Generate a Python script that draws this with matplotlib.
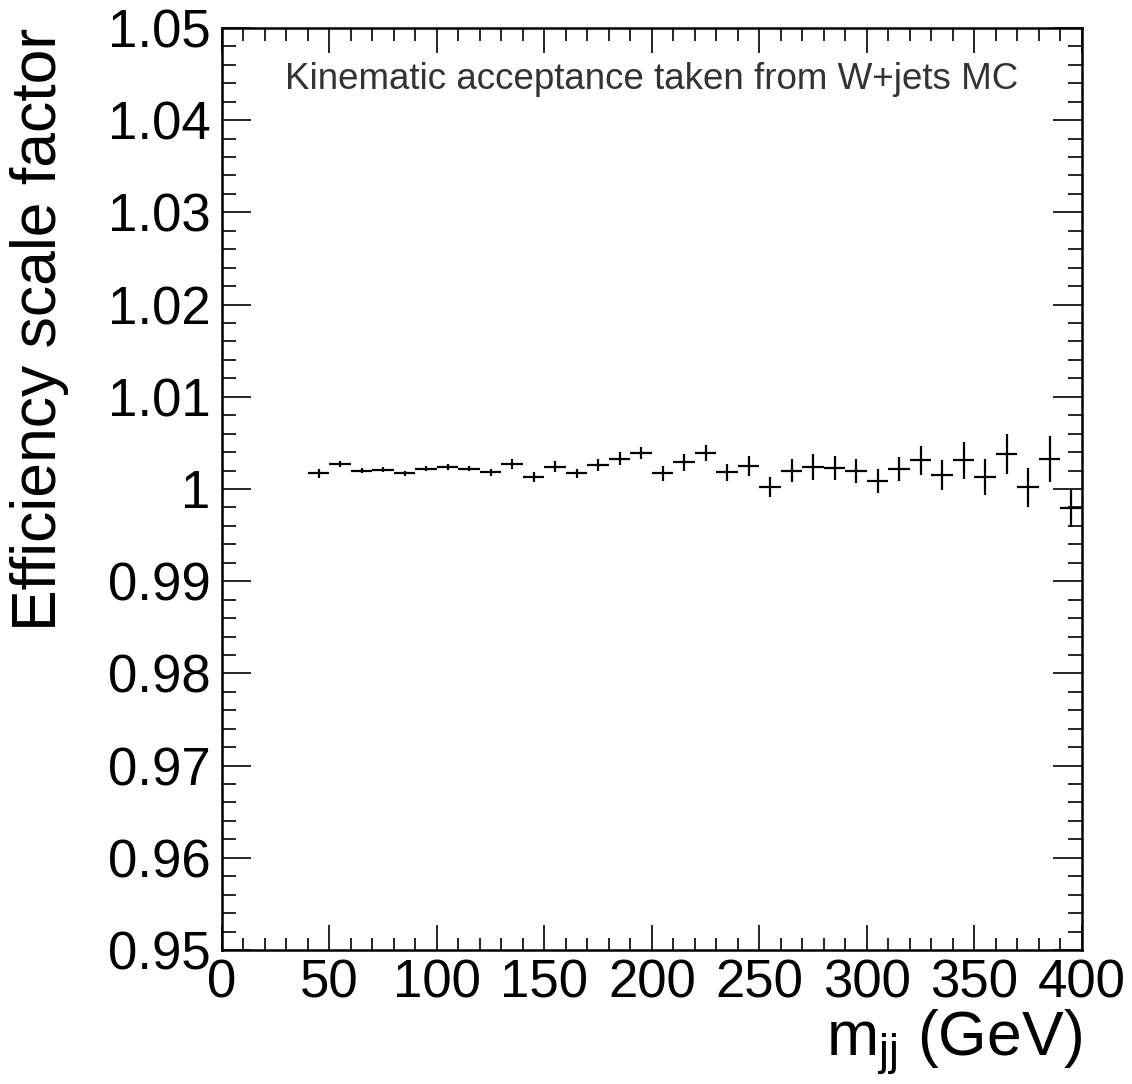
import numpy as np
import matplotlib.pyplot as plt
from matplotlib.ticker import MultipleLocator

plt.rcParams['font.family'] = ['Liberation Sans', 'DejaVu Sans']

# bin edges in m_jj (GeV), 10 GeV bins from 40 to 400
bin_lo = [40, 50, 60, 70, 80, 90, 100, 110, 120, 130, 140, 150,
          160, 170, 180, 190, 200, 210, 220, 230, 240, 250, 260, 270,
          280, 290, 300, 310, 320, 330, 340, 350, 360, 370, 380, 390]
sf = [1.0017, 1.0027, 1.0020, 1.0021, 1.0017, 1.0022, 1.0024, 1.0022, 1.0018, 1.0027, 1.0013, 1.0024,
      1.0017, 1.0026, 1.0033, 1.0039, 1.0017, 1.0029, 1.0039, 1.0018, 1.0025, 1.0002, 1.0020, 1.0024,
      1.0023, 1.0020, 1.0009, 1.0022, 1.0031, 1.0015, 1.0031, 1.0013, 1.0038, 1.0002, 1.0033, 0.9979]
sf_err = [0.0005, 0.0003, 0.0003, 0.0003, 0.0003, 0.0003, 0.0003, 0.0003, 0.0004, 0.0005, 0.0005, 0.0006,
          0.0005, 0.0007, 0.0007, 0.0007, 0.0008, 0.0009, 0.0009, 0.0009, 0.0011, 0.0011, 0.0012, 0.0014,
          0.0013, 0.0013, 0.0013, 0.0013, 0.0016, 0.0016, 0.0020, 0.0020, 0.0022, 0.0021, 0.0025, 0.0020]

bin_w = 10
x = np.array(bin_lo) + bin_w / 2

fig = plt.figure(figsize=(11.32, 10.84), dpi=100)
ax = fig.add_axes([0.1961, 0.1236, 0.7597, 0.8506])

ax.errorbar(x, sf, xerr=bin_w / 2, yerr=sf_err, fmt='none', ecolor='black',
            elinewidth=1.6, capsize=0)

ax.set_xlim(0, 400)
ax.set_ylim(0.95, 1.05)
ax.xaxis.set_major_locator(MultipleLocator(50))
ax.xaxis.set_minor_locator(MultipleLocator(10))
ax.yaxis.set_minor_locator(MultipleLocator(0.002))
ax.set_yticks(np.arange(0.95, 1.0501, 0.01))
ax.set_yticklabels(['0.95', '0.96', '0.97', '0.98', '0.99', '1', '1.01', '1.02', '1.03', '1.04', '1.05'])

ax.tick_params(which='both', direction='in', top=True, right=True, width=1.2, labelsize=38)
ax.tick_params(which='major', axis='x', length=18, pad=6)
ax.tick_params(which='minor', axis='x', length=9)
ax.tick_params(which='major', axis='y', length=21, pad=8)
ax.tick_params(which='minor', axis='y', length=10)
for s in ax.spines.values():
    s.set_linewidth(1.8)

ax.set_ylabel('Efficiency scale factor', fontsize=45, loc='top', labelpad=28)
ax.set_xlabel(r'm$_{\mathregular{jj}}$ (GeV)', fontsize=45, loc='right', labelpad=0)

ax.text(0.5, 0.944, 'Kinematic acceptance taken from W+jets MC', transform=ax.transAxes,
        ha='center', va='center', fontsize=26.5, color='#333333')

fig.savefig('out.png', dpi=100)
